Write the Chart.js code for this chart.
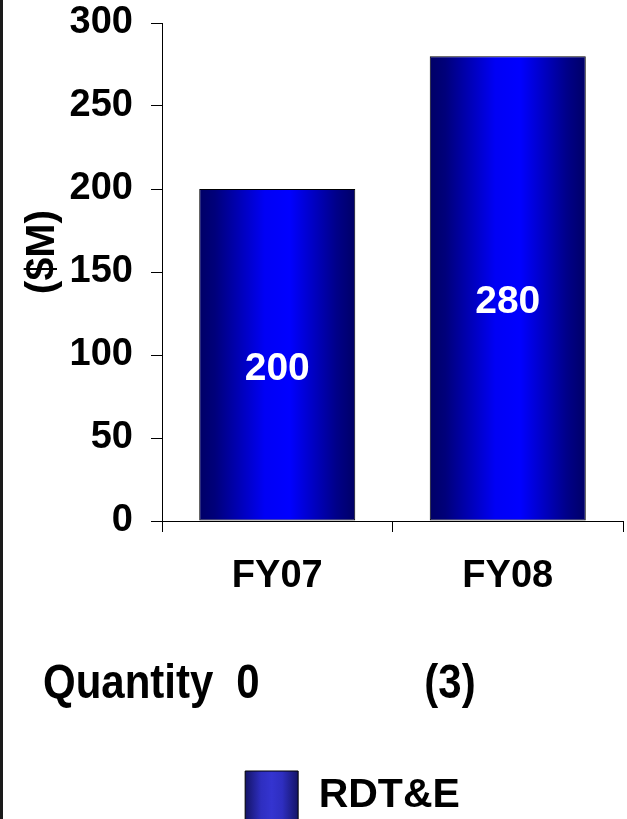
<!DOCTYPE html>
<html>
<head>
<meta charset="utf-8">
<script src="https://cdn.jsdelivr.net/npm/chart.js@4.4.0/dist/chart.umd.min.js"></script>
<style>
  html, body { margin: 0; padding: 0; background: #fff; }
  #wrap { position: relative; width: 627px; height: 819px; overflow: hidden; }
  #edge { position: absolute; left: 0; top: 0; width: 3px; height: 819px; background: #1a1a1a; }
  canvas { position: absolute; left: 0; top: 0; }
</style>
</head>
<body>
<div id="wrap">
  <canvas id="myChart" width="627" height="819"></canvas>
  <div id="edge"></div>
</div>
<script>
  const categories = ['FY07', 'FY08'];
  const rdteValues = [200, 280];
  const quantityTitle = 'Quantity';
  const quantityLabels = ['0', '(3)'];
  const seriesName = 'RDT&E';
  const yAxisTitle = '($M)';
  const yMax = 300;
  const yStep = 50;

  const FONT = '"Liberation Sans", Arial, sans-serif';
  const BAR_PCT = 0.677;

  // horizontal shading of each bar, dark edges and bright middle
  function barGradient(context) {
    const chart = context.chart;
    const x = chart.scales.x;
    if (!chart.chartArea || !x || context.dataIndex === undefined) return '#0000ff';
    const center = x.getPixelForValue(context.dataIndex);
    const half = x.width / categories.length * BAR_PCT / 2;
    const g = chart.ctx.createLinearGradient(center - half, 0, center + half, 0);
    g.addColorStop(0, '#000066');
    g.addColorStop(0.1, '#00007a');
    g.addColorStop(0.42, '#0000f5');
    g.addColorStop(0.58, '#0000ff');
    g.addColorStop(0.88, '#000088');
    g.addColorStop(1, '#000066');
    return g;
  }

  const extras = {
    id: 'extras',
    afterLayout(chart) {
      // move the legend to where it sits in the slide
      const lg = chart.legend;
      lg.left += 41;
      lg.right += 41;
      const dy = 771 - (lg.top + lg.options.labels.padding);
      lg.top += dy;
      lg.bottom += dy;
    },
    beforeDraw(chart) {
      const lg = chart.legend;
      const hb = lg.legendHitBoxes && lg.legendHitBoxes[0];
      if (hb && lg.legendItems[0]) {
        const w = lg.options.labels.boxWidth;
        const g = chart.ctx.createLinearGradient(hb.left, 0, hb.left + w, 0);
        g.addColorStop(0, '#141466');
        g.addColorStop(0.3, '#2e2ec0');
        g.addColorStop(0.5, '#3434d0');
        g.addColorStop(0.7, '#2e2ec0');
        g.addColorStop(1, '#141466');
        lg.legendItems[0].fillStyle = g;
      }
    },
    afterDatasetsDraw(chart) {
      const ctx = chart.ctx;
      const meta = chart.getDatasetMeta(0);
      ctx.save();
      ctx.font = 'bold 39px ' + FONT;
      ctx.fillStyle = '#fff';
      ctx.textAlign = 'center';
      ctx.textBaseline = 'middle';
      meta.data.forEach((bar, i) => {
        const mid = (bar.y + bar.base) / 2;
        ctx.fillText(String(rdteValues[i]), bar.x, mid + 14);
      });
      ctx.restore();
    },
    afterDraw(chart) {
      const ctx = chart.ctx;
      // y axis title
      ctx.save();
      ctx.translate(43, 252);
      ctx.rotate(-Math.PI / 2);
      ctx.font = 'bold 41px ' + FONT;
      ctx.fillStyle = '#000';
      ctx.textAlign = 'center';
      ctx.textBaseline = 'middle';
      ctx.fillText(yAxisTitle, 0, 0);
      ctx.restore();

      // quantity row
      const quantityX = [248, 450];
      ctx.save();
      ctx.font = 'bold 42px ' + FONT;
      ctx.fillStyle = '#000';
      ctx.textBaseline = 'alphabetic';
      ctx.translate(0, 698);
      ctx.scale(1, 1.16);
      ctx.textAlign = 'left';
      ctx.fillText(quantityTitle, 43, 0);
      ctx.textAlign = 'center';
      quantityLabels.forEach((q, i) => ctx.fillText(q, quantityX[i], 0));
      ctx.restore();
    }
  };

  const tickFont = { family: FONT, size: 38, weight: 'bold' };

  const ctx = document.getElementById('myChart').getContext('2d');
  const myBarChart = new Chart(ctx, {
    type: 'bar',
    data: {
      labels: categories,
      datasets: [{
        label: seriesName,
        data: rdteValues,
        backgroundColor: barGradient,
        borderColor: '#000',
        borderWidth: 1,
        borderSkipped: false,
        categoryPercentage: 1,
        barPercentage: BAR_PCT
      }]
    },
    options: {
      responsive: false,
      animation: false,
      devicePixelRatio: 1,
      layout: { padding: { top: 23, right: 4, left: 0, bottom: 0 } },
      plugins: {
        legend: {
          position: 'bottom',
          labels: {
            color: '#000',
            font: { family: FONT, size: 41, weight: 'bold' },
            boxWidth: 53,
            boxHeight: 50,
            padding: 10
          }
        },
        tooltip: { enabled: false }
      },
      scales: {
        x: {
          grid: { display: true, drawOnChartArea: false, drawTicks: true, tickLength: 11, color: '#000', offset: true },
          border: { display: true, color: '#000', width: 1 },
          ticks: { color: '#000', padding: 22, font: tickFont },
          afterFit(s) { s.height = 228; }
        },
        y: {
          min: 0,
          max: yMax,
          ticks: { stepSize: yStep, color: '#000', padding: 18, font: tickFont },
          grid: { drawOnChartArea: false, tickLength: 11, color: '#000' },
          border: { display: true, color: '#000', width: 1 },
          afterFit(s) { s.width = 162; s.paddingTop = 0; s.paddingBottom = 0; }
        }
      }
    },
    plugins: [extras]
  });
</script>
</body>
</html>
